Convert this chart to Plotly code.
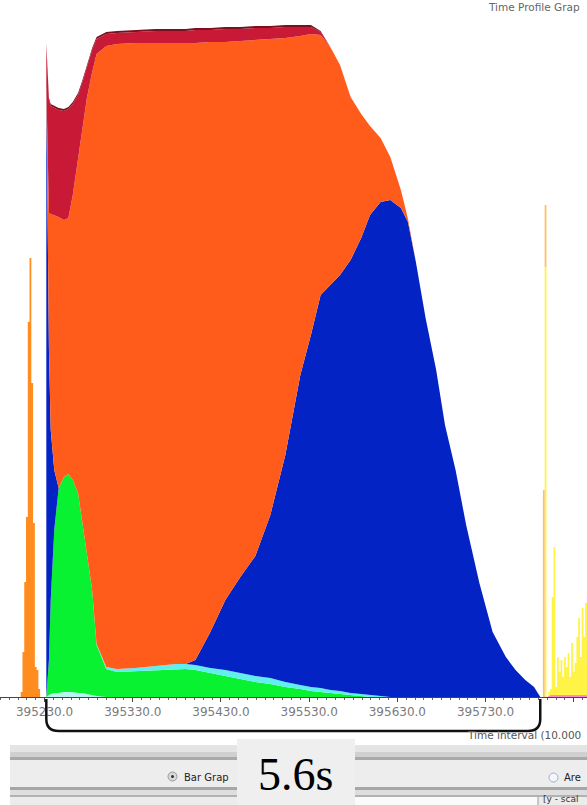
import plotly.graph_objects as go

# ---------------- data ----------------
interval_ms = 10.0

x_main = [395232, 395235, 395237, 395241, 395246, 395252, 395257, 395262, 395268, 395273,
          395278, 395284, 395289, 395300, 395312, 395333, 395356, 395379, 395390, 395401,
          395418, 395435, 395452, 395469, 395486, 395503, 395520, 395532, 395543, 395554,
          395565, 395577, 395589, 395599, 395611, 395622, 395634, 395642, 395651, 395662,
          395674, 395684, 395696, 395708, 395723, 395738, 395753, 395764, 395775, 395785,
          395789, 395792]

pale_cyan = [0, 2, 3, 4, 4, 5, 5, 5, 4, 4, 3, 2, 1] + [0] * 39

green = [0, 35, 94, 163, 205, 215, 218, 212, 200, 171,
         142, 105, 51, 28, 25, 26, 27, 28, 28, 27,
         24, 21, 18, 15, 13, 10, 8, 6, 5, 4,
         3, 2, 1] + [0] * 19

cyan = [0] * 12 + [1, 2, 3, 3, 4, 5, 5, 5, 5, 6,
                   6, 6, 6, 5, 4, 4, 4, 3, 3, 2,
                   2, 2, 1] + [0] * 17

blue = [609, 310, 170, 60] + [0] * 15 + [5, 36, 70, 96, 120, 163, 227, 310, 352, 393,
                                         405, 416, 433, 456, 480, 494, 497, 489, 475, 435,
                                         379, 327, 272, 227, 172, 114, 65, 40, 27, 17,
                                         10, 4, 0]

orange = [2, 137, 216, 255, 271, 257, 256, 285, 333, 394,
          454, 518, 590, 621, 625, 625, 623, 621, 621, 617,
          590, 558, 536, 516, 476, 417, 339, 301, 260, 238,
          210, 163, 124, 89, 64, 43, 18, 3] + [0] * 14

crimson = [41, 113, 108, 107, 107, 109, 109, 91, 65, 46,
           31, 22, 15, 12, 11, 11, 12, 12, 12, 13,
           12, 13, 12, 12, 11, 11, 9, 7, 3] + [0] * 23

maroon = [2] * 28 + [1] + [0] * 23

# left spike (separate process)
x_spike = [395203, 395205, 395207, 395209, 395211, 395213, 395215, 395217, 395219, 395221,
           395223, 395225]
spike = [5, 45, 115, 180, 375, 439, 314, 174, 30, 27, 8, 0]

# right-hand spikes
x_right = [395795, 395797, 395799, 395801, 395803, 395805, 395807, 395809, 395811, 395813,
           395815, 395817, 395819, 395821, 395823, 395825, 395827, 395829, 395831, 395833,
           395835, 395837, 395839, 395841, 395843, 395845, 395847]
pink = [0, 0, 0, 1, 2, 2, 2, 2, 2, 2, 2, 2, 2, 2, 2, 2, 2, 2, 2, 2, 2, 2, 2, 2, 2, 2, 0]
yellow = [0, 430, 0, 4, 6, 98, 148, 8, 38, 23, 35, 18, 38, 28, 42, 18, 52, 23, 32, 58,
          77, 38, 87, 58, 92, 98, 0]
light_orange = [207, 62] + [0] * 25

tick_start = 395230
x_range = [395179.5, 395845]
y_range = [0, 697]

bracket_start = 395232
bracket_end = 395792
duration_label = f"{(bracket_end - bracket_start) * interval_ms / 1000:.1f}s"

# ---------------- figure ----------------
fig = go.Figure()

main_layers = [
    ("pale cyan", pale_cyan, "#b8f4f2"),
    ("green", green, "#08f232"),
    ("cyan", cyan, "#5ff0ee"),
    ("blue", blue, "#0423c4"),
    ("orange", orange, "#ff5b1a"),
    ("crimson", crimson, "#c81a36"),
    ("maroon", maroon, "#7a1020"),
]
for name, vals, col in main_layers:
    fig.add_trace(go.Scatter(x=x_main, y=vals, name=name, mode="lines",
                             stackgroup="main", line=dict(width=0, color=col),
                             fillcolor=col, hoverinfo="skip"))

fig.add_trace(go.Scatter(x=x_spike, y=spike, name="spike", mode="lines",
                         stackgroup="left", line=dict(width=0, shape="hv", color="#ff8c1e"),
                         fillcolor="#ff8c1e", hoverinfo="skip"))

for name, vals, col in [("pink", pink, "#ff88d8"), ("yellow", yellow, "#fff445"),
                        ("light orange", light_orange, "#ffc060")]:
    fig.add_trace(go.Scatter(x=x_right, y=vals, name=name, mode="lines",
                             stackgroup="right", line=dict(width=0, shape="hv", color=col),
                             fillcolor=col, hoverinfo="skip"))

W, H, PLOT_H = 587, 805, 697


def X(p):
    return p / W


def Y(p):
    return (PLOT_H - p) / PLOT_H


shapes = []


def band(x0, x1, y0, y1, col):
    shapes.append(dict(type="rect", xref="paper", yref="paper", x0=X(x0), x1=X(x1),
                       y0=Y(y0), y1=Y(y1), fillcolor=col, line=dict(width=0), layer="above"))


# bottom UI panel
band(10, 587, 745, 752, "#e4e4e4")
band(10, 587, 752, 757, "#d0d0d0")
band(10, 587, 757, 760, "#a9a9a9")
band(10, 587, 760, 787, "#ededed")
band(10, 587, 787, 790, "#a6a6a6")
band(10, 587, 790, 795, "#dedede")
band(10, 587, 795, 797, "#b2b2b2")
band(10, 587, 797, 805, "#ececec")
band(355, 538, 797, 805, "#fafafa")
# label box
band(237, 355, 739, 805, "#efefef")

# radio buttons
shapes.append(dict(type="circle", xref="paper", yref="paper", x0=X(168), x1=X(177),
                   y0=Y(772), y1=Y(781), fillcolor="#d8d8d8", line=dict(color="#9a9a9a", width=1),
                   layer="above"))
shapes.append(dict(type="circle", xref="paper", yref="paper", x0=X(171), x1=X(174),
                   y0=Y(775), y1=Y(778), fillcolor="#333333", line=dict(width=0), layer="above"))
shapes.append(dict(type="circle", xref="paper", yref="paper", x0=X(549), x1=X(558),
                   y0=Y(773), y1=Y(782), fillcolor="#f4f6fa", line=dict(color="#9fb0c8", width=1),
                   layer="above"))
shapes.append(dict(type="line", xref="paper", yref="paper", x0=X(538), x1=X(538),
                   y0=Y(797), y1=Y(805), line=dict(color="#9a9a9a", width=1), layer="above"))

# bracket marking the interval
r = 14
ya, yb, yc = Y(699), Y(719), Y(731)
path = (f"M {bracket_start},{ya} L {bracket_start},{yb} "
        f"Q {bracket_start},{yc} {bracket_start + r},{yc} "
        f"L {bracket_end - r},{yc} Q {bracket_end},{yc} {bracket_end},{yb} "
        f"L {bracket_end},{ya}")
shapes.append(dict(type="path", xref="x", yref="paper", path=path,
                   line=dict(color="#111111", width=2.5), layer="above"))

annotations = [
    dict(text=duration_label, xref="paper", yref="paper", x=X(296), y=Y(775),
         xanchor="center", yanchor="middle", showarrow=False,
         font=dict(family="Liberation Serif", size=46, color="#000000")),
    dict(text="Time interval (10.000", xref="paper", yref="paper", x=X(465), y=Y(735),
         xanchor="left", yanchor="middle", showarrow=False,
         font=dict(family="DejaVu Sans", size=10.5, color="#555555")),
    dict(text="Time Profile Grap", xref="paper", yref="paper", x=X(486), y=Y(7),
         xanchor="left", yanchor="middle", showarrow=False,
         font=dict(family="DejaVu Sans", size=10.5, color="#666666")),
    dict(text="Bar Grap", xref="paper", yref="paper", x=X(182), y=Y(777),
         xanchor="left", yanchor="middle", showarrow=False,
         font=dict(family="DejaVu Sans", size=10, color="#222222")),
    dict(text="Are", xref="paper", yref="paper", x=X(562), y=Y(777),
         xanchor="left", yanchor="middle", showarrow=False,
         font=dict(family="DejaVu Sans", size=10, color="#222222")),
    dict(text="[y - scal", xref="paper", yref="paper", x=X(541), y=Y(799),
         xanchor="left", yanchor="middle", showarrow=False,
         font=dict(family="DejaVu Sans", size=9, color="#333333")),
]

fig.update_layout(
    width=W, height=H,
    margin=dict(l=0, r=0, t=0, b=H - PLOT_H, pad=0),
    paper_bgcolor="white", plot_bgcolor="white",
    showlegend=False,
    xaxis=dict(range=x_range, tickmode="linear", tick0=tick_start, dtick=100,
               tickformat=".1f", ticks="outside", ticklen=4, tickwidth=1, tickcolor="#444444",
               showline=True, linecolor="#444444", linewidth=1, showgrid=False,
               zeroline=False, automargin=False,
               tickfont=dict(family="DejaVu Sans", size=12, color="#7a7a7a"),
               minor=dict(dtick=10, tick0=tick_start, ticks="outside", ticklen=2,
                          tickcolor="#666666", showgrid=False)),
    yaxis=dict(range=y_range, visible=False, fixedrange=True),
    shapes=shapes,
    annotations=annotations,
)

fig.write_html("out.html")
